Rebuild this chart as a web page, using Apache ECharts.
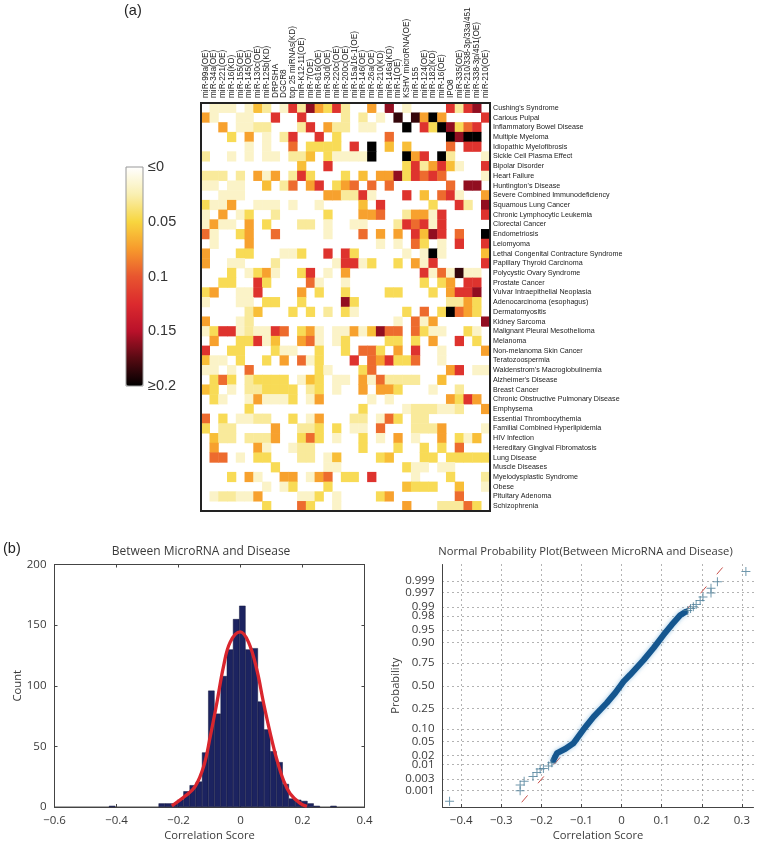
<!DOCTYPE html>
<html><head><meta charset="utf-8">
<style>html,body{margin:0;padding:0;background:#fff}#c{width:759px;height:842px}</style>
<script src="https://cdn.jsdelivr.net/npm/echarts@6/dist/echarts.min.js"></script>
</head><body><div id="c"></div>
<script>
const mirnaLabels = ["miR-99a(OE)","miR-34a(OE)","miR-221(OE)","miR-16(KD)","miR-155(OE)","miR-145(OE)","miR-130c(OE)","miR-125b(KD)","DRPSHA","DGCR8","top 25 miRNAs(KD)","miR-K12-11(OE)","miR-7(OE)","miR-616(OE)","miR-30d(OE)","miR-220c(OE)","miR-200c(OE)","miR-15a/16-1(OE)","miR-146(OE)","miR-26a(OE)","miR-210(KD)","miR-146a(KD)","miR-1(OE)","KSHV microRNA(OE)","miR-155","miR-124(OE)","miR-182(KD)","miR-16(OE)","IPO8","miR-335(OE)","miR-210/338-3p/33a/451","miR-338-3p/451(OE)","miR-210(OE)"];
const diseaseLabels = ["Cushing's Syndrome","Carious Pulpal","Inflammatory Bowel Disease","Multiple Myeloma","Idiopathic Myelofibrosis","Sickle Cell Plasma Effect","Bipolar Disorder","Heart Failure","Huntington's Disease","Severe Combined Immunodeficiency","Squamous Lung Cancer","Chronic Lymphocytic Leukemia","Clorectal Cancer","Endometriosis","Leiomyoma","Lethal Congenital Contracture Syndrome","Papillary Thyroid Carcinoma","Polycystic Ovary Syndrome","Prostate Cancer","Vulvar Intraepithelial Neoplasia","Adenocarcinoma (esophagus)","Dermatomyositis","Kidney Sarcoma","Malignant Pleural Mesothelioma","Melanoma","Non-melanoma Skin Cancer","Teratozoospermia","Waldenstrom's Macroglobulinemia","Alzheimer's Disease","Breast Cancer","Chronic Obstructive Pulmonary Disease","Emphysema","Essential Thrombocythemia","Familial Combined Hyperlipidemia","HIV Infection","Hereditary Gingival Fibromatosis","Lung Disease","Muscle Diseases","Myelodysplastic Syndrome","Obese","Pituitary Adenoma","Schizophrenia"];
// colour-read correlation levels
const levelValues = {p:.018,l:.03,y:.045,a:.06,o:.072,r:.092,R:.12,d:.16,k:.185,K:.2};
// one entry per disease: "column+level" for each non-white cell
const heatRows = [
"1p 2p 3p 5p 6a 7l 9p 10R 11l 12d 13o 14y 15R 16l 19o 21d 23p 28R 29l 30R 31d",
"0o 1p 4p 5p 8R 11R 16l 18l 20p 22k 24k 25o 26K 27o 32R",
"2o 4p 5p 6l 7l 11l 12R 14o 15l 16l 18p 19p 23K 25R 26y 27K 28d 29y 30r 31R",
"3y 5o 7p 9l 10R 13R 15y 21r 28K 29d 30K 31K",
"5p 7p 10r 12y 13y 14y 15y 17R 19K 21a 23a 28r 30R 31R",
"0l 3p 5p 7p 8p 10l 11l 12a 14y 15p 16p 17p 18p 19K 23K 24o 25R 27K 28l 32p",
"11a 14R 23y 24R 25l 26o 27R 28a 29p 32R",
"0l 1l 2l 4l 6o 7p 8o 10l 11R 12y 16y 18a 20o 21o 22d 23y 24R 25r 26R 27r 32p",
"0p 1p 3p 4p 7a 9l 10r 12o 13R 15y 16o 17r 19r 21r 28r 30d 31d",
"2p 3p 4p 14o 15o 16l 17l 18R 19p 23R 25a 27r 28R 29p 32o",
"0y 1p 2p 3o 6p 7p 8p 10p 13p 18a 20R 26y 29R 30l 32d",
"0p 2o 4p 5y 8l 14y 18o 19o 20r 23l 24o 25o 26p 27R 32R",
"0p 1o 2p 3p 5o 7y 11l 12l 14p 17p 18p 22l 23R 24r 25R 26p 27R",
"0r 1p 4y 5o 8r 14p 18r 20o 22o 24R 25a 26d 27R 29r 32K",
"1p 5o 20p 22p 24r 25y 27p 29R 32R",
"0o 4y 5y 9p 10p 11y 14R 16R 17y 23p 25p 26K 27p 32a",
"0o 3p 4p 8l 15p 16R 17R 18p 19y 22y 24o 25p 26R 32R",
"3y 5p 6y 7o 8p 11y 12R 14p 16o 25R 26p 27r 28p 29k 30p 31p",
"2y 3y 6R 7y 12r 13p 16p 25y 27y 28o 30R 31R",
"0y 1o 4p 5p 6R 11o 13y 16y 21y 22y 26y 28o 29R 30R 31d",
"0p 4p 5p 7y 8y 11y 16d 17y 28l 29l 30o 31y",
"5l 6a 10y 12y 14l 16y 17p 23y 25r 27y 28K 29r 30o 31y",
"0o 4p 5l 22p 24r 25p 26o 32d",
"0p 1y 2R 3R 4p 5l 6p 7p 8R 9r 11y 12o 13p 15p 16p 17o 18p 19a 20d 21r 22r 24r 25y 26p 27p 30y 31p",
"1o 4y 5y 6R 7p 8a 11o 12r 13p 15p 16y 21y 22y 24y 26o 29R 31y",
"0R 3y 4y 8y 9p 10p 13y 16y 18r 19r 20y 22o 24R 27p 32o",
"0a 1p 2p 4y 7y 9o 11r 12p 13y 17R 19r 20o 21R 22y 23y 24r 27p",
"0p 1p 3p 5r 13y 14p 18y 19r 28o 29R 31p 32p",
"1y 2r 3y 5l 6y 7y 8y 9y 11p 12a 13y 15p 16p 18o 19p 20r 21l 22l 23l 24l 27a",
"0a 1y 3p 5l 6l 7y 8y 9y 10y 12l 13y 15p 18o 20o 21o 22y 26p 29l",
"1y 2p 5p 6o 7p 8p 9p 10y 12p 13o 19p 21p 28o 29y 30R 31o",
"5y 18y 23p 24l 25l 26l 27p 28p 29l 32o",
"0r 2y 4p 5p 6l 7l 10y 12p 13o 17l 18l 20p 21r 22y 24l 25l",
"0y 2l 3l 8o 11l 12l 13y 15y 17p 18p 20r 24l 25l 26l 27o 32p",
"1a 2l 3l 5l 6l 7l 8o 11y 12r 13y 15p 18y 20p 22o 24p 27o 29y 30p 31a",
"1o 6o 7p 10p 11l 12l 18y 22y 25y 27y 29r",
"1r 2r 4p 6y 7y 11l 12l 14p 15a 20y 21a 25y 26y 28y 29y 30y 31y 32y",
"8y 14p 15p 23y 24p 25p 27p 28p",
"3y 5o 6p 9o 10o 12p 13o 14r 16y 17y 19R 24p 28y 32l",
"7p 9p 10y 14y 23a 24y 25y 26y 29a 32p",
"1p 2l 3l 4p 5p 6o 11p 12p 13y 15p 20y 21o 29r",
"7y 11r 12y 15p 23o 27l 28l 29l 30r 31y"
];
const colorStops = ["#ffffff","#f9efb2","#f8d63f","#f79a2c","#e8552f","#dc2a2e","#b9112a","#560a12","#000000"];
const scaleTicks = {0:"≤0",0.05:"0.05",0.1:"0.1",0.15:"0.15",0.2:"≥0.2"};

const histCenters = [-0.414,-0.254,-0.234,-0.214,-0.194,-0.174,-0.154,-0.134,-0.114,-0.094,-0.074,-0.054,-0.034,-0.014,0.006,0.026,0.046,0.066,0.086,0.106,0.126,0.146,0.166,0.186,0.206,0.226,0.246,0.30];
const histCounts  = [1,3,3,3,6,13,18,21,45,96,77,108,130,155,166,130,131,87,64,46,37,19,7,6,5,3,1,1];
const curveX = [-0.2213,-0.1784,-0.1461,-0.1182,-0.0977,-0.0762,-0.0548,-0.0333,-0.001,0.0258,0.0529,0.0742,0.0958,0.1174,0.1387,0.1603,0.1926,0.2142];
const curveY = [1,9,17,34,58,86,116,136,144.5,136,113,86,61,39,22,11,3,0.5];

const probTickNames = ["0.001","0.003","0.01","0.02","0.05","0.10","0.25","0.50","0.75","0.90","0.95","0.98","0.99","0.997","0.999"];
const probTickZ = [-3.09,-2.748,-2.326,-2.054,-1.645,-1.282,-0.674,0,0.674,1.282,1.645,2.054,2.326,2.748,3.09];
const probInnerZ = [-2.748,2.748];
const bandX = [-0.170,-0.161,-0.140,-0.120,-0.095,-0.070,-0.037,-0.015,0.005,0.021,0.055,0.080,0.1045,0.125,0.146,0.159];
const bandZ = [-2.20,-1.99,-1.86,-1.70,-1.29,-0.92,-0.51,-0.20,0.126,0.32,0.76,1.12,1.50,1.80,2.08,2.18];
const tailX = [-0.429,-0.253,-0.253,-0.243,-0.221,-0.211,-0.203,-0.195,-0.182,-0.174,0.165,0.172,0.179,0.186,0.196,0.203,0.223,0.223,0.239,0.310];
const tailZ = [-3.41,-3.10,-2.93,-2.82,-2.68,-2.56,-2.46,-2.44,-2.37,-2.27,2.22,2.28,2.33,2.40,2.52,2.62,2.74,2.88,3.07,3.37];
const refLineX = [-0.249,0.254];
const refLineZ = [-3.44,3.52];

const heatData = [];
heatRows.forEach((row, r) => row.split(" ").forEach(cell => {
  heatData.push([parseInt(cell), r, levelValues[cell.slice(-1)]]);
}));
const zip = (a, b) => a.map((v, i) => [v, b[i]]);
const minus = v => String(v).replace("-", "−");
const ui = '"Open Sans","Noto Sans",sans-serif';
const tc = "#3a3a3a";
const axisBase = {
  axisLine: {onZero:false, lineStyle:{color:"#444", width:1}},
  axisTick: {inside:true, length:3, lineStyle:{color:"#444"}},
  splitLine: {show:false},
  axisLabel: {color:tc, fontFamily:ui, fontSize:11.5, margin:8, formatter:minus, showMinLabel:true, showMaxLabel:true},
  nameLocation:"middle",
  nameTextStyle:{color:tc, fontFamily:ui, fontSize:11.2}
};
const gridDots = {show:true, lineStyle:{color:"#666", width:1, type:[1,4]}};
const titleFont = size => ({fontFamily:ui, fontWeight:"normal", fontSize:size, color:tc});
const panelFont = {fontFamily:"Liberation Sans", fontWeight:"normal", fontSize:14.5, color:"#222"};
const probName = v => probTickNames[probTickZ.indexOf(v)];

const chart = echarts.init(document.getElementById("c"));
chart.setOption({
  animation:false,
  backgroundColor:"#fff",
  title:[
    {text:"(a)", left:124, top:3, padding:0, textStyle:panelFont},
    {text:"(b)", left:3, top:541, padding:0, textStyle:panelFont},
    {text:"Between MicroRNA and Disease", left:201, top:546, padding:0, textAlign:"center", textStyle:titleFont(12)},
    {text:"Normal Probability Plot(Between MicroRNA and Disease)", left:585.5, top:546, padding:0, textAlign:"center", textStyle:titleFont(11.2)}
  ],
  grid:[
    {left:201, top:103, width:289, height:408, show:true, borderColor:"#222", borderWidth:2, backgroundColor:"transparent", z:5},
    {left:126, top:167, width:17, height:219, show:true, borderColor:"#999", borderWidth:1, backgroundColor:"transparent", z:9},
    {left:54.5, top:564.5, width:310, height:244, show:true, borderColor:"#555", borderWidth:1},
    {left:442.5, top:564.5, width:311, height:244}
  ],
  xAxis:[
    {gridIndex:0, type:"category", data:mirnaLabels, position:"top", axisLine:{show:false}, axisTick:{show:false}, splitLine:{show:false},
     axisLabel:{interval:0, rotate:-90, margin:5, fontFamily:"Liberation Sans", fontSize:8.2, color:"#222"}},
    {gridIndex:1, type:"value", min:0, max:1, show:false},
    Object.assign({}, axisBase, {gridIndex:2, type:"value", min:-0.6, max:0.4, interval:0.2, name:"Correlation Score", nameGap:23}),
    Object.assign({}, axisBase, {gridIndex:2, type:"value", min:-0.6, max:0.4, interval:0.2, position:"top", axisLabel:{show:false}, name:""}),
    Object.assign({}, axisBase, {gridIndex:3, type:"value", min:-0.4466, max:0.329, interval:0.1, name:"Correlation Score", nameGap:23,
      splitLine:gridDots, axisLabel:Object.assign({}, axisBase.axisLabel, {formatter:v => minus(Math.round(v*10)/10), customValues:[-0.4,-0.3,-0.2,-0.1,0,0.1,0.2,0.3]}),
      axisTick:{inside:true, length:3, lineStyle:{color:"#444"}, customValues:[-0.4,-0.3,-0.2,-0.1,0,0.1,0.2,0.3]}})
  ],
  yAxis:[
    {gridIndex:0, type:"category", data:diseaseLabels, inverse:true, position:"right", axisLine:{show:false}, axisTick:{show:false}, splitLine:{show:false},
     axisLabel:{interval:0, margin:3, fontFamily:"Liberation Sans", fontSize:7.15, color:"#222"}},
    {gridIndex:1, type:"value", min:0, max:0.2, interval:0.05, inverse:true, position:"right", axisLine:{show:false}, axisTick:{show:false}, splitLine:{show:false},
     axisLabel:{margin:5, fontFamily:"Liberation Sans", fontSize:14.5, color:"#333", showMinLabel:true, showMaxLabel:true, formatter:v => scaleTicks[Math.round(v*100)/100]}},
    Object.assign({}, axisBase, {gridIndex:2, type:"value", min:0, max:200, interval:50, name:"Count", nameGap:27}),
    Object.assign({}, axisBase, {gridIndex:2, type:"value", min:0, max:200, interval:50, position:"right", axisLabel:{show:false}, name:""}),
    Object.assign({}, axisBase, {gridIndex:3, type:"value", min:-3.58, max:3.58, name:"Probability", nameGap:41,
      splitLine:gridDots,
      axisLabel:Object.assign({}, axisBase.axisLabel, {customValues:probTickZ.filter(z => !probInnerZ.includes(z)), formatter:probName}),
      axisTick:{show:false, customValues:probTickZ}}),
    // second axis on the same side: the two labels that ECharts' end-label overlap rule would otherwise drop
    {gridIndex:3, type:"value", min:-3.58, max:3.58, position:"left", axisLine:{show:false}, axisTick:{show:false}, splitLine:{show:false},
      axisLabel:Object.assign({}, axisBase.axisLabel, {customValues:probInnerZ, formatter:probName})}
  ],
  visualMap:{type:"continuous", seriesIndex:0, min:0, max:0.2, inverse:true, calculable:false, left:126, top:167, itemWidth:17, itemHeight:219, padding:0, text:["",""], showLabel:false, inRange:{color:colorStops}, hoverLink:false},
  series:[
    {type:"heatmap", xAxisIndex:0, yAxisIndex:0, data:heatData, progressive:0, emphasis:{disabled:true}},
    {type:"bar", xAxisIndex:2, yAxisIndex:2, data:zip(histCenters, histCounts), barWidth:6.4, itemStyle:{color:"#1c2360", borderColor:"#12163f", borderWidth:0.5}, z:2},
    {type:"line", xAxisIndex:2, yAxisIndex:2, data:zip(curveX, curveY), smooth:0.4, showSymbol:false, lineStyle:{color:"#d9262e", width:3.3}, z:3},
    {type:"line", xAxisIndex:4, yAxisIndex:4, data:zip(refLineX, refLineZ), showSymbol:false, lineStyle:{color:"#c9504a", width:1, type:[9,16]}, z:2},
    {type:"line", xAxisIndex:4, yAxisIndex:4, data:zip(bandX, bandZ), showSymbol:false, lineStyle:{color:"#14568f", width:6, cap:"round", join:"round", shadowBlur:4, shadowColor:"rgba(90,160,210,0.6)"}, z:3},
    {type:"scatter", xAxisIndex:4, yAxisIndex:4, data:zip(tailX, tailZ), symbol:"path://M4 0h1v4h4v1h-4v4h-1v-4h-4v-1h4z", symbolSize:9, itemStyle:{color:"#4b7d97"}, z:4}
  ]
});
</script></body></html>
